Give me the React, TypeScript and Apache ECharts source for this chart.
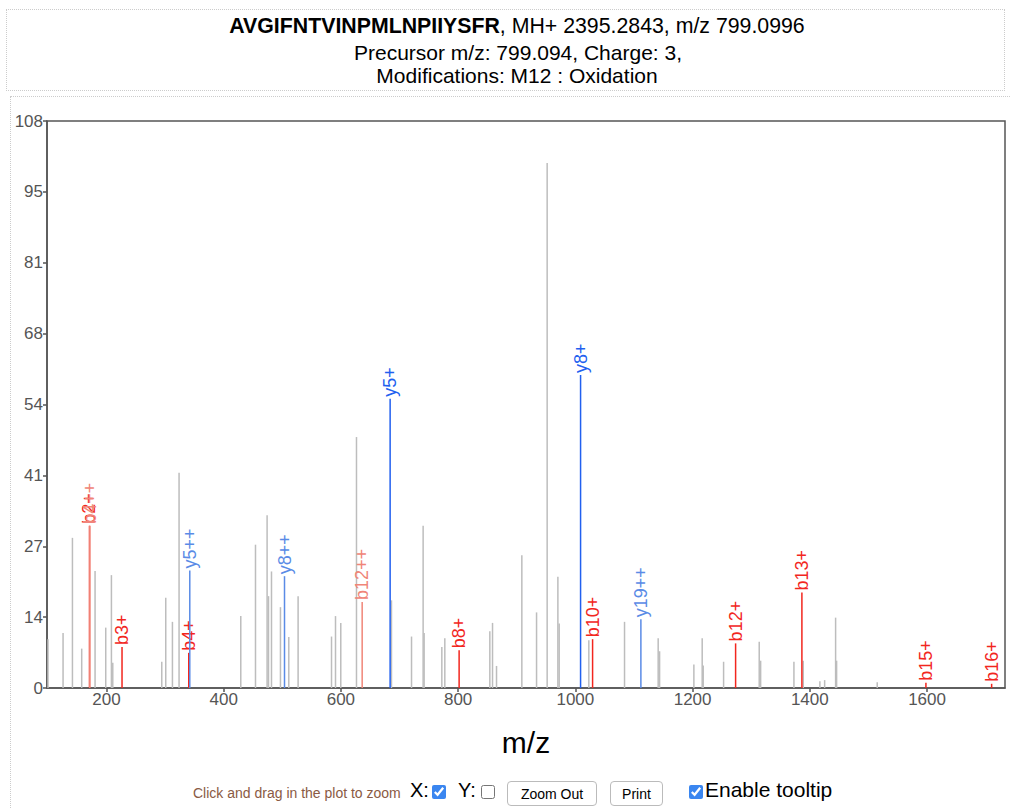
import React, { useEffect, useRef } from "react";
import * as echarts from "echarts";

const peptide = "AVGIFNTVINPMLNPIIYSFR";
const titleRest = ", MH+ 2395.2843, m/z 799.0996";
const subLine1 = "Precursor m/z: 799.094, Charge: 3,";
const subLine2 = "Modifications: M12 : Oxidation";
const xAxisName = "m/z";

const xMin = 98.6;
const xMax = 1733;
const xTickValues = [200, 400, 600, 800, 1000, 1200, 1400, 1600];
const yMax = 108;
const yStep = 13.5;

// unassigned peaks (grey)
const peakMz = [
  100.3, 126.0, 142.0, 157.8, 180.6, 198.8, 208.5, 210.8, 294.4, 301.2,
  312.6, 323.9, 429.2, 454.3, 474.1, 476.5, 481.6, 496.9, 511.1, 527.0,
  584.0, 590.8, 599.8, 626.6, 686.3, 720.5, 740.3, 742.0, 772.2, 777.3,
  854.1, 858.7, 865.5, 908.7, 933.8, 951.9, 970.2, 972.4, 1023.0, 1083.9,
  1141.3, 1143.7, 1202.2, 1216.4, 1218.1, 1252.9, 1313.7, 1316.1, 1372.9, 1388.8,
  1417.2, 1425.3, 1444.0, 1445.7, 1515.0,
];
const peakIntensity = [
  9.3, 10.5, 28.6, 7.5, 22.3, 11.5, 21.5, 4.8, 5.0, 17.2,
  12.6, 41.0, 13.7, 27.3, 32.9, 17.5, 22.2, 15.4, 9.7, 17.5,
  9.8, 13.7, 12.4, 47.8, 16.7, 9.8, 30.9, 10.5, 7.8, 9.5,
  10.8, 12.4, 4.2, 25.3, 14.4, 100.0, 21.2, 12.3, 9.1, 12.6,
  9.5, 7.0, 4.5, 9.5, 4.3, 5.0, 8.8, 5.2, 5.0, 5.2,
  1.3, 1.5, 13.4, 5.2, 1.1,
];

// assigned fragment ions
const ionLabels = [
  "b2+", "b4++", "b3+", "b4+", "y5++", "y8++", "b12++", "y5+", "b8+",
  "y8+", "b10+", "y19++", "b12+", "b13+", "b15+", "b16+",
];
const ionMz = [
  171.1, 171.6, 226.6, 340.4, 342.2, 503.8, 636.3, 684.0, 801.7,
  1008.9, 1029.4, 1111.8, 1273.4, 1386.5, 1598.1, 1710.2,
];
const ionIntensity = [
  30.9, 30.9, 7.8, 6.7, 22.4, 21.3, 16.4, 55.1, 7.2,
  59.6, 9.3, 13.1, 8.5, 18.2, 1.0, 0.8,
];
const ionKinds = [
  "b", "b++", "b", "b", "y++", "y++", "b++", "y", "b",
  "y", "b", "y++", "b", "b", "b", "b",
];

const ionColors: Record<string, string> = {
  b: "#f2261e",
  "b++": "#f08578",
  y: "#2160ef",
  "y++": "#5a8be6",
};

const FONT = '"Liberation Sans", Arial, Helvetica, sans-serif';

export default function App() {
  const ref = useRef<HTMLDivElement>(null);

  useEffect(() => {
    if (!ref.current) return;
    const chart = echarts.init(ref.current, undefined, { renderer: "svg" });
    const option: any = {
      animation: false,
      textStyle: { fontFamily: FONT },
      graphic: [
        {
          type: "text",
          x: 517,
          y: 26,
          style: {
            text: `{b|${peptide}}{n|${titleRest}}`,
            align: "center",
            verticalAlign: "middle",
            rich: {
              b: { fontSize: 21.3, fontWeight: "bold", fill: "#000", fontFamily: FONT },
              n: { fontSize: 21.3, fill: "#000", fontFamily: FONT },
            },
          },
        },
        {
          type: "text",
          x: 518,
          y: 52,
          style: {
            text: subLine1,
            align: "center",
            verticalAlign: "middle",
            fontSize: 21,
            fill: "#000",
            fontFamily: FONT,
          },
        },
        {
          type: "text",
          x: 517,
          y: 75,
          style: {
            text: subLine2,
            align: "center",
            verticalAlign: "middle",
            fontSize: 21,
            fill: "#000",
            fontFamily: FONT,
          },
        },
      ],
      grid: {
        left: 47,
        top: 121,
        width: 958,
        height: 567,
        show: true,
        borderColor: "#555",
        borderWidth: 1.5,
        backgroundColor: "#fff",
      },
      xAxis: {
        type: "value",
        min: xMin,
        max: xMax,
        name: xAxisName,
        nameLocation: "middle",
        nameGap: 39,
        nameTextStyle: { fontSize: 30, color: "#000", fontFamily: FONT },
        axisLine: { show: true, lineStyle: { color: "#555", width: 1.5 } },
        axisTick: {
          show: true,
          length: 4,
          customValues: xTickValues,
          lineStyle: { color: "#555", width: 1.5 },
        },
        axisLabel: {
          customValues: xTickValues,
          fontSize: 17,
          color: "#555",
          margin: 3,
          fontFamily: FONT,
          formatter: (v: number) => String(Math.round(v)),
        },
        splitLine: { show: false },
      },
      yAxis: {
        type: "value",
        min: 0,
        max: yMax,
        interval: yStep,
        axisLine: { show: true, lineStyle: { color: "#555", width: 1.5 } },
        axisTick: { show: true, length: 4, lineStyle: { color: "#555", width: 1.5 } },
        axisLabel: {
          fontSize: 17,
          color: "#555",
          margin: 4,
          fontFamily: FONT,
          formatter: (v: number) => String(Math.round(v)),
        },
        splitLine: { show: false },
      },
      series: [
        {
          type: "custom",
          name: "peaks",
          data: peakMz.map((m, i) => [m, peakIntensity[i]]),
          encode: { x: 0, y: 1 },
          renderItem: (params: any, api: any) => {
            const base = api.coord([api.value(0), 0]);
            const top = api.coord([api.value(0), api.value(1)]);
            return {
              type: "line",
              shape: { x1: base[0], y1: base[1], x2: top[0], y2: top[1] },
              style: { stroke: "#bdbdbd", lineWidth: 1.5 },
            };
          },
        },
        {
          type: "custom",
          name: "ions",
          data: ionMz.map((m, i) => [m, ionIntensity[i], i]),
          encode: { x: 0, y: 1 },
          renderItem: (params: any, api: any) => {
            const i = api.value(2);
            const base = api.coord([api.value(0), 0]);
            const top = api.coord([api.value(0), api.value(1)]);
            const color = ionColors[ionKinds[i]];
            return {
              type: "group",
              children: [
                {
                  type: "line",
                  shape: { x1: base[0], y1: base[1], x2: top[0], y2: top[1] },
                  style: { stroke: color, lineWidth: 1.5 },
                },
                {
                  type: "text",
                  x: top[0],
                  y: top[1] - 2,
                  rotation: Math.PI / 2,
                  style: {
                    text: ionLabels[i],
                    fill: color,
                    fontSize: 18,
                    fontFamily: FONT,
                    align: "left",
                    verticalAlign: "middle",
                  },
                },
              ],
            };
          },
        },
      ],
    };
    chart.setOption(option);
    return () => chart.dispose();
  }, []);

  const ctl: React.CSSProperties = { position: "absolute", fontFamily: FONT, whiteSpace: "nowrap" };
  const btn: React.CSSProperties = {
    position: "absolute",
    fontFamily: FONT,
    fontSize: 14,
    background: "#fff",
    border: "1px solid #bbb",
    borderRadius: 4,
    padding: 0,
    height: 25,
    color: "#000",
  };
  const cb: React.CSSProperties = {
    position: "absolute",
    margin: 0,
    width: 14,
    height: 14,
    accentColor: "#3a86f0",
  };

  return (
    <div style={{ position: "absolute", left: 0, top: 0, width: 1010, height: 808, background: "#fff", overflow: "hidden" }}>
      <div style={{ position: "absolute", left: 6, top: 9, width: 997, height: 80, border: "1px dotted #ccc" }} />
      <div style={{ position: "absolute", left: 10, top: 96, width: 1010, height: 730, border: "1px dotted #ccc" }} />
      <div ref={ref} style={{ position: "absolute", left: 0, top: 0, width: 1010, height: 808 }} />
      <div style={{ ...ctl, left: 193, top: 785, fontSize: 14, color: "#8a5a44" }}>Click and drag in the plot to zoom</div>
      <div style={{ ...ctl, left: 410, top: 779, fontSize: 20, color: "#000" }}>X:</div>
      <input type="checkbox" defaultChecked style={{ ...cb, left: 432, top: 785 }} />
      <div style={{ ...ctl, left: 458, top: 779, fontSize: 20, color: "#000" }}>Y:</div>
      <input type="checkbox" style={{ ...cb, left: 481, top: 785 }} />
      <button style={{ ...btn, left: 507, top: 781, width: 90 }}>Zoom Out</button>
      <button style={{ ...btn, left: 610, top: 781, width: 53 }}>Print</button>
      <input type="checkbox" defaultChecked style={{ ...cb, left: 689, top: 785 }} />
      <div style={{ ...ctl, left: 705, top: 778, fontSize: 21, color: "#000" }}>Enable tooltip</div>
    </div>
  );
}
